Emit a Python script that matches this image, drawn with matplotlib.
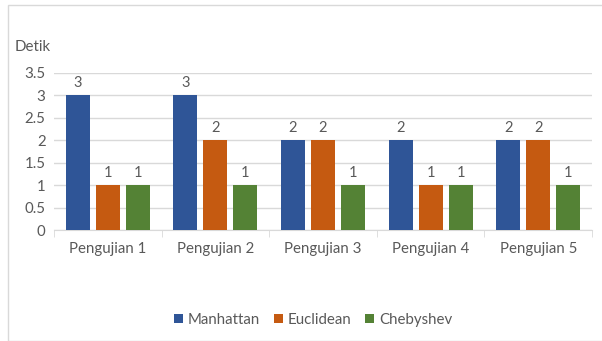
import numpy as np
import matplotlib.pyplot as plt
from matplotlib.patches import Rectangle

plt.rcParams['font.family'] = ['Lato', 'DejaVu Sans']

categories = ["Pengujian 1", "Pengujian 2", "Pengujian 3", "Pengujian 4", "Pengujian 5"]
manhattan = [3, 3, 2, 2, 2]
euclidean = [1, 2, 2, 1, 2]
chebyshev = [1, 1, 1, 1, 1]

series = [("Manhattan", manhattan, "#2F5597"),
          ("Euclidean", euclidean, "#C55A11"),
          ("Chebyshev", chebyshev, "#548235")]

text_col = "#595959"
grid_col = "#D9D9D9"

fig = plt.figure(figsize=(6.02, 3.41), dpi=100)
ax = fig.add_axes([54 / 602, 1 - 230 / 341, 538 / 602, 157 / 341])

x = np.arange(len(categories))
width = 0.223
step = 0.279

for i, (name, vals, col) in enumerate(series):
    pos = x + (i - 1) * step
    bars = ax.bar(pos, vals, width, color=col, label=name, zorder=3)
    for b, v in zip(bars, vals):
        ax.text(b.get_x() + b.get_width() / 2, v + 0.12, str(v),
                ha="center", va="bottom", fontsize=10.5, color=text_col)

ax.set_xlim(-0.5, len(categories) - 0.5)
ax.set_ylim(0, 3.5)
ax.set_yticks(np.arange(0, 3.51, 0.5))
ax.set_yticklabels(["0", "0.5", "1", "1.5", "2", "2.5", "3", "3.5"])
ax.yaxis.grid(True, color=grid_col, linewidth=1, zorder=0)
ax.set_xticks(x)
ax.set_xticklabels(categories)
ax.set_xticks(np.arange(-0.5, len(categories), 1), minor=True)
ax.tick_params(axis="x", which="major", length=0, pad=9, labelsize=10.8, colors=text_col)
ax.tick_params(axis="x", which="minor", length=5, color=grid_col)
ax.tick_params(axis="y", length=0, pad=6, labelsize=10.8, colors=text_col)

for s in ["top", "right", "left"]:
    ax.spines[s].set_visible(False)
ax.spines["bottom"].set_color(grid_col)

fig.text(15 / 602, 1 - 47 / 341, "Detik", fontsize=10.8, color=text_col, va="center")

fig.legend(loc="center", bbox_to_anchor=(313 / 602, 1 - 320 / 341), ncol=3,
           frameon=False, fontsize=10.8, handlelength=0.6, handleheight=0.6,
           handletextpad=0.35, columnspacing=0.9, labelcolor=text_col)

fig.patches.append(Rectangle((8 / 602, 0), 1.0, 1 - 5 / 341, transform=fig.transFigure,
                             fill=False, edgecolor=grid_col, linewidth=1))

fig.savefig("out.png", dpi=100)
